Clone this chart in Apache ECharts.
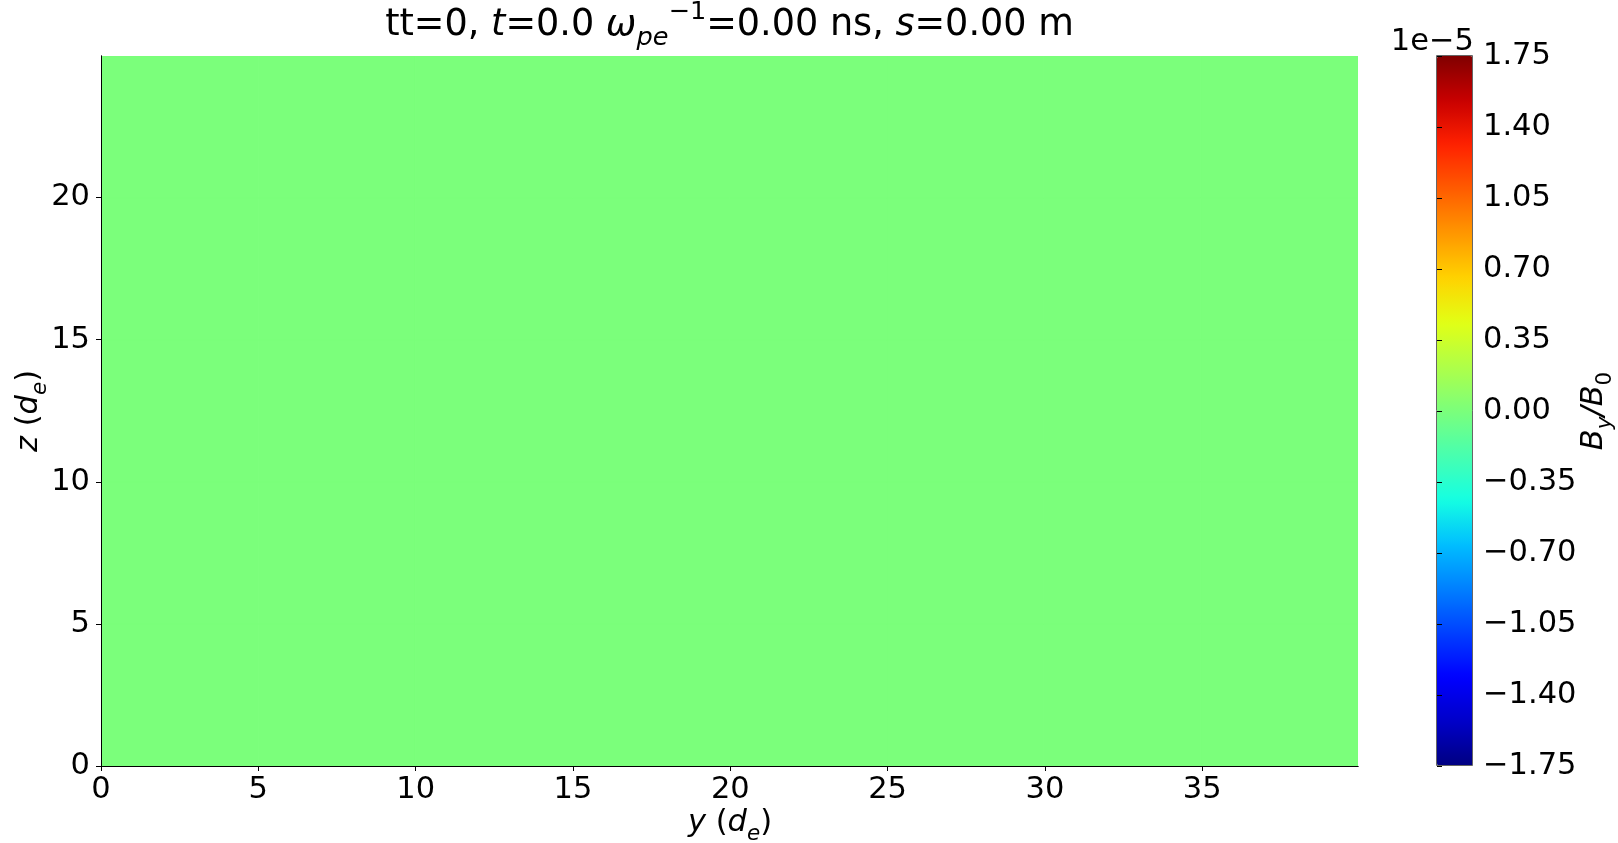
<!DOCTYPE html>
<html>
<head>
<meta charset="utf-8">
<script src="https://cdn.jsdelivr.net/npm/echarts@6/dist/echarts.min.js"></script>
<style>
html,body{margin:0;padding:0;background:#fff;}
#chart{width:1618px;height:843px;}
</style>
</head>
<body>
<div id="chart"></div>
<script>
// ---- data ----
const yExtent = [0, 39.95];          // horizontal axis y (d_e)
const zExtent = [0, 24.98];          // vertical axis z (d_e)
const xTicks = [0, 5, 10, 15, 20, 25, 30, 35];
const zTicks = [0, 5, 10, 15, 20];
const cbTicks = [-1.75, -1.40, -1.05, -0.70, -0.35, 0.00, 0.35, 0.70, 1.05, 1.40, 1.75];
const cbExponent = -5;
const cbRange = [-1.75e-5, 1.75e-5];
// By/B0 field at tt=0 (uniform zero everywhere), rows along z, columns along y
const field = [
  [0, 0, 0, 0, 0, 0, 0, 0],
  [0, 0, 0, 0, 0, 0, 0, 0],
  [0, 0, 0, 0, 0, 0, 0, 0],
  [0, 0, 0, 0, 0, 0, 0, 0],
  [0, 0, 0, 0, 0, 0, 0, 0]
];
const jet = ['#000080','#0000c8','#0000ff','#0040ff','#0080ff','#00bfff','#15ffe2','#48ffaf',
             '#7bff7b','#afff48','#e2ff15','#ffd200','#ff9700','#ff5c00','#ff2100','#c80000','#800000'];

// ---- build cells ----
const nz = field.length, ny = field[0].length;
const cells = [];
for (let r = 0; r < nz; r++) {
  for (let c = 0; c < ny; c++) {
    const y0 = yExtent[0] + (yExtent[1] - yExtent[0]) * c / ny;
    const y1 = yExtent[0] + (yExtent[1] - yExtent[0]) * (c + 1) / ny;
    const z0 = zExtent[0] + (zExtent[1] - zExtent[0]) * r / nz;
    const z1 = zExtent[0] + (zExtent[1] - zExtent[0]) * (r + 1) / nz;
    cells.push([y0, z0, y1, z1, field[r][c]]);
  }
}

const FONT = 'DejaVu Sans';
const FS = 30.5;
const SFS = 21.5;
const TFS = 36.6;
const TSFS = 25.6;
const richBase = {
  n: {fontFamily: FONT, fontSize: FS, lineHeight: 44, color: '#000'},
  i: {fontFamily: FONT, fontSize: FS, fontStyle: 'italic', lineHeight: 44, color: '#000'},
  sub: {fontFamily: FONT, fontSize: SFS, fontStyle: 'italic', verticalAlign: 'bottom', color: '#000'},
  subn: {fontFamily: FONT, fontSize: SFS, verticalAlign: 'bottom', color: '#000'},
  sup: {fontFamily: FONT, fontSize: SFS, verticalAlign: 'top', color: '#000'}
};
const richTitle = {
  n: {fontFamily: FONT, fontSize: TFS, lineHeight: 52, color: '#000'},
  i: {fontFamily: FONT, fontSize: TFS, fontStyle: 'italic', lineHeight: 52, color: '#000'},
  sub: {fontFamily: FONT, fontSize: TSFS, fontStyle: 'italic', verticalAlign: 'bottom', color: '#000'},
  sup: {fontFamily: FONT, fontSize: TSFS, verticalAlign: 'top', color: '#000'}
};

function fmtCb(v) {
  if (Math.abs(v) < 1e-9) return '0.00';
  return (v < 0 ? '\u2212' : '') + Math.abs(v).toFixed(2);
}

const chart = echarts.init(document.getElementById('chart'), null, {renderer: 'canvas'});
const axisLabelStyle = {fontFamily: FONT, fontSize: FS, color: '#000'};

const option = {
  backgroundColor: '#fff',
  animation: false,
  grid: [
    {left: 101, top: 56, width: 1257, height: 710, show: false},
    {left: 1437, top: 56, width: 36, height: 710, show: false}
  ],
  xAxis: [
    {
      type: 'value', gridIndex: 0, min: yExtent[0], max: yExtent[1], position: 'bottom', z: 5,
      axisLine: {show: true, lineStyle: {color: '#000', width: 1}},
      axisTick: {show: true, length: 5, lineStyle: {color: '#000', width: 1}, customValues: xTicks},
      axisLabel: Object.assign({margin: 9, customValues: xTicks, formatter: v => String(v)}, axisLabelStyle),
      splitLine: {show: false}
    },
    {
      type: 'value', gridIndex: 0, min: yExtent[0], max: yExtent[1], position: 'top', z: 5,
      axisLine: {show: true, lineStyle: {color: '#000', width: 1}},
      axisTick: {show: false}, axisLabel: {show: false}, splitLine: {show: false}
    },
    {
      type: 'value', gridIndex: 1, min: 0, max: 1, show: false
    }
  ],
  yAxis: [
    {
      type: 'value', gridIndex: 0, min: zExtent[0], max: zExtent[1], position: 'left', z: 5,
      axisLine: {show: true, lineStyle: {color: '#000', width: 1}},
      axisTick: {show: true, length: 5, lineStyle: {color: '#000', width: 1}, customValues: zTicks},
      axisLabel: Object.assign({margin: 11, padding: [5, 0, 0, 0], customValues: zTicks, formatter: v => String(v)}, axisLabelStyle),
      splitLine: {show: false}
    },
    {
      type: 'value', gridIndex: 0, min: zExtent[0], max: zExtent[1], position: 'right', z: 5,
      axisLine: {show: true, lineStyle: {color: '#000', width: 1}},
      axisTick: {show: false}, axisLabel: {show: false}, splitLine: {show: false}
    },
    {
      type: 'value', gridIndex: 1, min: cbTicks[0], max: cbTicks[cbTicks.length - 1], interval: 0.35,
      position: 'right', z: 5,
      axisLine: {show: false},
      axisTick: {show: true, length: 5, lineStyle: {color: '#000', width: 1}, customValues: cbTicks},
      axisLabel: Object.assign({margin: 10, padding: [5, 0, 0, 0], customValues: cbTicks, formatter: fmtCb}, axisLabelStyle),
      splitLine: {show: false}
    }
  ],
  visualMap: {
    type: 'continuous',
    seriesIndex: 0,
    dimension: 4,
    min: cbRange[0], max: cbRange[1],
    left: 1437, top: 56,
    itemWidth: 36, itemHeight: 710,
    padding: 0,
    calculable: false,
    showLabel: false,
    text: null,
    realtime: false,
    hoverLink: false,
    inRange: {color: jet}
  },
  series: [
    {
      type: 'custom',
      xAxisIndex: 0, yAxisIndex: 0,
      coordinateSystem: 'cartesian2d',
      clip: true,
      z: 1,
      encode: {x: [0, 2], y: [1, 3]},
      data: cells,
      renderItem: function (params, api) {
        const p0 = api.coord([api.value(0), api.value(1)]);
        const p1 = api.coord([api.value(2), api.value(3)]);
        const col = api.visual('color');
        return {
          type: 'rect',
          shape: {x: Math.min(p0[0], p1[0]), y: Math.min(p0[1], p1[1]),
                  width: Math.abs(p1[0] - p0[0]), height: Math.abs(p1[1] - p0[1])},
          style: {fill: col, stroke: col, lineWidth: 1}
        };
      }
    }
  ],
  graphic: [
    {
      type: 'text', x: 729.5, y: 25, z: 10,
      style: {
        text: '{n|tt=0, }{i|t}{n|=0.0 }{i|ω}{sub|pe}{sup|\u22121}{n|=0.00 ns, }{i|s}{n|=0.00 m}',
        rich: richTitle, align: 'center', verticalAlign: 'middle'
      }
    },
    {
      type: 'text', x: 730, y: 823, z: 10,
      style: {
        text: '{i|y}{n| (}{i|d}{sub|e}{n|)}',
        rich: richBase, align: 'center', verticalAlign: 'middle'
      }
    },
    {
      type: 'text', x: 29, y: 411, rotation: Math.PI / 2, z: 10,
      style: {
        text: '{i|z}{n| (}{i|d}{sub|e}{n|)}',
        rich: richBase, align: 'center', verticalAlign: 'middle'
      }
    },
    {
      type: 'text', x: 1594, y: 411, rotation: Math.PI / 2, z: 10,
      style: {
        text: '{i|B}{sub|y}{i|/B}{subn|0}',
        rich: richBase, align: 'center', verticalAlign: 'middle'
      }
    },
    {
      type: 'text', x: 1474, y: 42, z: 10,
      style: {
        text: '1e\u2212' + Math.abs(cbExponent),
        fontFamily: FONT, fontSize: FS, fill: '#000', align: 'right', verticalAlign: 'middle'
      }
    },
    {
      type: 'rect', z: 20, silent: true,
      shape: {x: 1436.5, y: 55.5, width: 36, height: 710},
      style: {fill: 'none', stroke: '#666', lineWidth: 1}
    }
  ]
};
chart.setOption(option);
</script>
</body>
</html>
